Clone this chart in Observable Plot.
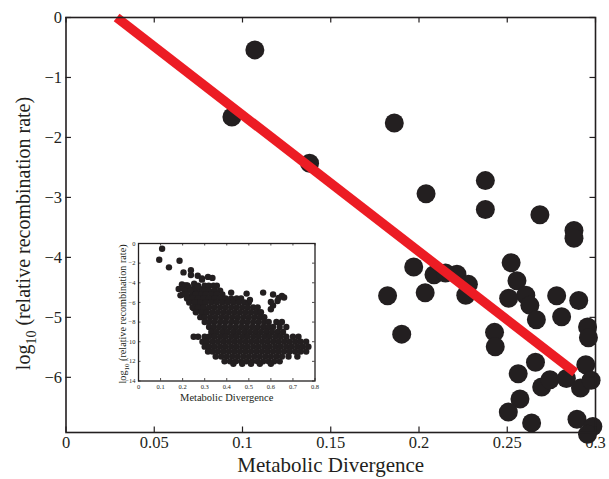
<!DOCTYPE html>
<html><head><meta charset="utf-8">
<script src="https://cdn.jsdelivr.net/npm/d3@7"></script>
<script src="https://cdn.jsdelivr.net/npm/@observablehq/plot@0.6"></script>
<style>
html,body{margin:0;padding:0;background:#fff;}
#wrap{position:relative;width:609px;height:479px;overflow:hidden;}
#inset{position:absolute;left:100px;top:236px;}
svg{overflow:visible;}
</style></head><body><div id="wrap"><div id="main"></div><div id="inset"></div></div>
<script>
// ---- main scatter (x < 0.3) ----
const mainX = [0.107,0.094,0.138,0.186,0.204,0.2376,0.2376,0.2685,0.2878,0.2878,
  0.197,0.1822,0.2035,0.2085,0.215,0.2215,0.228,0.2265,0.1902,0.2522,
  0.2555,0.2508,0.2605,0.2628,0.2665,0.278,0.2808,0.2905,0.2428,0.2432,
  0.2955,0.296,0.266,0.2562,0.2572,0.2506,0.2638,0.2695,0.2742,0.2835,
  0.2945,0.2915,0.2975,0.2895,0.2985,0.2955];
const mainY = [-0.54,-1.66,-2.43,-1.76,-2.94,-2.72,-3.20,-3.29,-3.55,-3.68,
  -4.16,-4.64,-4.59,-4.29,-4.26,-4.28,-4.45,-4.63,-5.28,-4.09,
  -4.39,-4.68,-4.63,-4.80,-5.04,-4.64,-4.99,-4.72,-5.25,-5.49,
  -5.16,-5.34,-5.75,-5.94,-6.36,-6.58,-6.76,-6.16,-6.04,-6.02,
  -5.79,-6.18,-6.05,-6.70,-6.82,-6.95];
// fitted line end points
const fitX = [0.0287, 0.2885];
const fitY = [0, -5.92];
// axes
const xTicks = [0, 0.05, 0.1, 0.15, 0.2, 0.25, 0.3];
const xTickLabels = ["0", "0.05", "0.1", "0.15", "0.2", "0.25", "0.3"];
const yTicks = [0, -1, -2, -3, -4, -5, -6];
const yTickLabels = ["0", "\u22121", "\u22122", "\u22123", "\u22124", "\u22125", "\u22126"];
const yMin = -6.92;

// ---- inset: full data set (rows of the dense cloud + isolated points) ----
const insetRowY = [-4.3,-4.8,-5.2,-5.6,-6.0,-6.5,-7.0,-7.5,-8.0,-8.5,-9.0,-9.5,-10.0,-10.5,-11.0,-11.5,-12.0,-12.25];
const insetRowX = [
  [0.27,0.3,0.318,0.34,0.355],
  [0.21,0.235,0.3,0.32,0.345,0.37],
  [0.2,0.215,0.26,0.285,0.305,0.33,0.355,0.38],
  [0.22,0.245,0.27,0.295,0.32,0.345,0.37,0.395,0.42,0.445,0.465],
  [0.23,0.255,0.28,0.305,0.33,0.355,0.38,0.405,0.43,0.455,0.48,0.5],
  [0.245,0.27,0.295,0.32,0.345,0.37,0.395,0.42,0.445,0.47,0.495,0.52,0.54],
  [0.26,0.285,0.31,0.335,0.36,0.385,0.41,0.435,0.46,0.485,0.51,0.535,0.555],
  [0.28,0.3,0.325,0.35,0.375,0.4,0.425,0.45,0.475,0.5,0.525,0.55,0.57],
  [0.3,0.32,0.345,0.37,0.395,0.42,0.445,0.47,0.495,0.52,0.545,0.57,0.59,0.625,0.65],
  [0.32,0.34,0.365,0.39,0.415,0.44,0.465,0.49,0.515,0.54,0.565,0.59,0.61,0.64,0.67],
  [0.33,0.355,0.38,0.405,0.43,0.455,0.48,0.505,0.53,0.555,0.58,0.605,0.63,0.655],
  [0.25,0.27,0.3,0.32,0.345,0.37,0.395,0.42,0.445,0.47,0.495,0.52,0.545,0.57,0.595,0.62,0.645,0.67,0.7,0.725],
  [0.29,0.31,0.335,0.36,0.385,0.41,0.435,0.46,0.485,0.51,0.535,0.56,0.585,0.61,0.635,0.66,0.685,0.71,0.735,0.76],
  [0.3,0.32,0.345,0.37,0.395,0.42,0.445,0.47,0.495,0.52,0.545,0.57,0.595,0.62,0.645,0.67,0.695,0.72,0.745,0.77],
  [0.315,0.335,0.36,0.385,0.41,0.435,0.46,0.485,0.51,0.535,0.56,0.585,0.61,0.635,0.66,0.685,0.71,0.735,0.76],
  [0.35,0.375,0.4,0.425,0.45,0.475,0.5,0.525,0.55,0.575,0.6,0.625,0.65,0.68,0.72],
  [0.39,0.415,0.44,0.465,0.49,0.515,0.54,0.565,0.59,0.615,0.64],
  [0.43,0.47,0.51,0.55,0.6]
];
const insetOutX = [0.315,0.335,0.42,0.49,0.565,0.61,0.635,0.65,0.66,0.63,0.6,0.61,0.6,0.505];
const insetOutY = [-3.4,-3.5,-5.0,-5.1,-5.0,-5.2,-5.55,-5.35,-5.5,-5.85,-5.95,-6.3,-6.7,-5.75];
const insetXTicks = [0,0.1,0.2,0.3,0.4,0.5,0.6,0.7,0.8];
const insetXLabels = ["0","0.1","0.2","0.3","0.4","0.5","0.6","0.7","0.8"];
const insetYTicks = [0,-2,-4,-6,-8,-10,-12,-14];
const insetYLabels = ["0","\u22122","\u22124","\u22126","\u22128","\u221210","\u221212","\u221214"];

const serif = "'Liberation Serif','Times New Roman',Times,serif";
const ink = "#231f20";

const mainPts = mainX.map((x, i) => ({x, y: mainY[i]}));
const fitLine = fitX.map((x, i) => ({x, y: fitY[i]}));

const W = 609, H = 479, mL = 65.5, mR = 14, mT = 17, mB = 47;
const iW = W - mL - mR, iH = H - mT - mB, tk = 5.5;

const main = Plot.plot({
  width: W, height: H, marginLeft: mL, marginRight: mR, marginTop: mT, marginBottom: mB,
  style: {fontFamily: serif, background: "white", color: ink, overflow: "visible"},
  x: {domain: [0, 0.3], label: null},
  y: {domain: [yMin, 0], label: null},
  marks: [
    Plot.dot(mainPts, {x: "x", y: "y", r: 9.5, fill: ink, stroke: "none"}),
    Plot.line(fitLine, {x: "x", y: "y", stroke: "#ec1c24", strokeWidth: 9.5, strokeLinecap: "butt"}),
    Plot.frame({stroke: ink, strokeWidth: 1.6}),
    Plot.tickX(xTicks, {x: d => d, insetTop: iH - tk, stroke: ink, strokeWidth: 1.2}),
    Plot.tickX(xTicks, {x: d => d, insetBottom: iH - tk, stroke: ink, strokeWidth: 1.2}),
    Plot.tickY(yTicks, {y: d => d, insetRight: iW - tk, stroke: ink, strokeWidth: 1.2}),
    Plot.tickY(yTicks, {y: d => d, insetLeft: iW - tk, stroke: ink, strokeWidth: 1.2}),
    Plot.axisX(xTicks, {tickSize: 0, tickPadding: 4, fontSize: 16.5, label: null, fontFamily: serif,
      tickFormat: d => xTickLabels[xTicks.indexOf(d)]}),
    Plot.axisY(yTicks, {tickSize: 0, tickPadding: 4, fontSize: 16.5, label: null, fontFamily: serif,
      tickFormat: d => yTickLabels[yTicks.indexOf(d)]}),
    Plot.text(["Metabolic Divergence"], {frameAnchor: "bottom", dy: 32.5, lineAnchor: "middle",
      text: d => d, fontSize: 21, fill: ink, fontFamily: serif})
  ]
});
document.getElementById("main").appendChild(main);
{
  const t = d3.select(main).append("text")
    .attr("transform", "translate(30,233.5) rotate(-90)")
    .attr("text-anchor", "middle").attr("fill", ink)
    .style("font-family", serif).attr("font-size", 20);
  t.append("tspan").text("log");
  t.append("tspan").attr("font-size", 14).attr("dy", 6).text("10");
  t.append("tspan").attr("dy", -6).text(" (relative recombination rate)");
}

// inset
const insetPts = mainPts
  .concat(insetRowY.flatMap((y, i) => insetRowX[i].map(x => ({x, y}))))
  .concat(insetOutX.map((x, i) => ({x, y: insetOutY[i]})));
const IW = 220, IH = 170, iL = 38, iT = 7, iR = 5.5, iB = 25.5;
const iiW = IW - iL - iR, iiH = IH - iT - iB, itk = 2.5;
const inset = Plot.plot({
  width: IW, height: IH, marginLeft: iL, marginTop: iT, marginRight: iR, marginBottom: iB,
  style: {fontFamily: serif, background: "transparent", color: ink, overflow: "visible"},
  x: {domain: [0, 0.8], label: null},
  y: {domain: [-14, 0], label: null},
  marks: [
    Plot.frame({fill: "white"}),
    Plot.dot(insetPts, {x: "x", y: "y", r: 3.2, fill: ink, stroke: "none"}),
    Plot.frame({stroke: ink, strokeWidth: 1.3}),
    Plot.tickX(insetXTicks, {x: d => d, insetTop: iiH - itk, stroke: ink, strokeWidth: 0.8}),
    Plot.tickX(insetXTicks, {x: d => d, insetBottom: iiH - itk, stroke: ink, strokeWidth: 0.8}),
    Plot.tickY(insetYTicks, {y: d => d, insetRight: iiW - itk, stroke: ink, strokeWidth: 0.8}),
    Plot.tickY(insetYTicks, {y: d => d, insetLeft: iiW - itk, stroke: ink, strokeWidth: 0.8}),
    Plot.axisX(insetXTicks, {tickSize: 0, tickPadding: 3, fontSize: 6.5, label: null, fontFamily: serif,
      tickFormat: d => insetXLabels[insetXTicks.indexOf(d)]}),
    Plot.axisY(insetYTicks, {tickSize: 0, tickPadding: 3, fontSize: 6.5, label: null, fontFamily: serif,
      tickFormat: d => insetYLabels[insetYTicks.indexOf(d)]}),
    Plot.text(["Metabolic Divergence"], {frameAnchor: "bottom", dy: 17, lineAnchor: "middle",
      text: d => d, fontSize: 10.5, fill: ink, fontFamily: serif})
  ]
});
document.getElementById("inset").appendChild(inset);
{
  const t = d3.select(inset).append("text")
    .attr("transform", "translate(26,78) rotate(-90)")
    .attr("text-anchor", "middle").attr("fill", ink)
    .style("font-family", serif).attr("font-size", 10.2);
  t.append("tspan").text("log");
  t.append("tspan").attr("font-size", 7).attr("dy", 3).text("10");
  t.append("tspan").attr("dy", -3).text(" (relative recombination rate)");
}
</script>
</body></html>
